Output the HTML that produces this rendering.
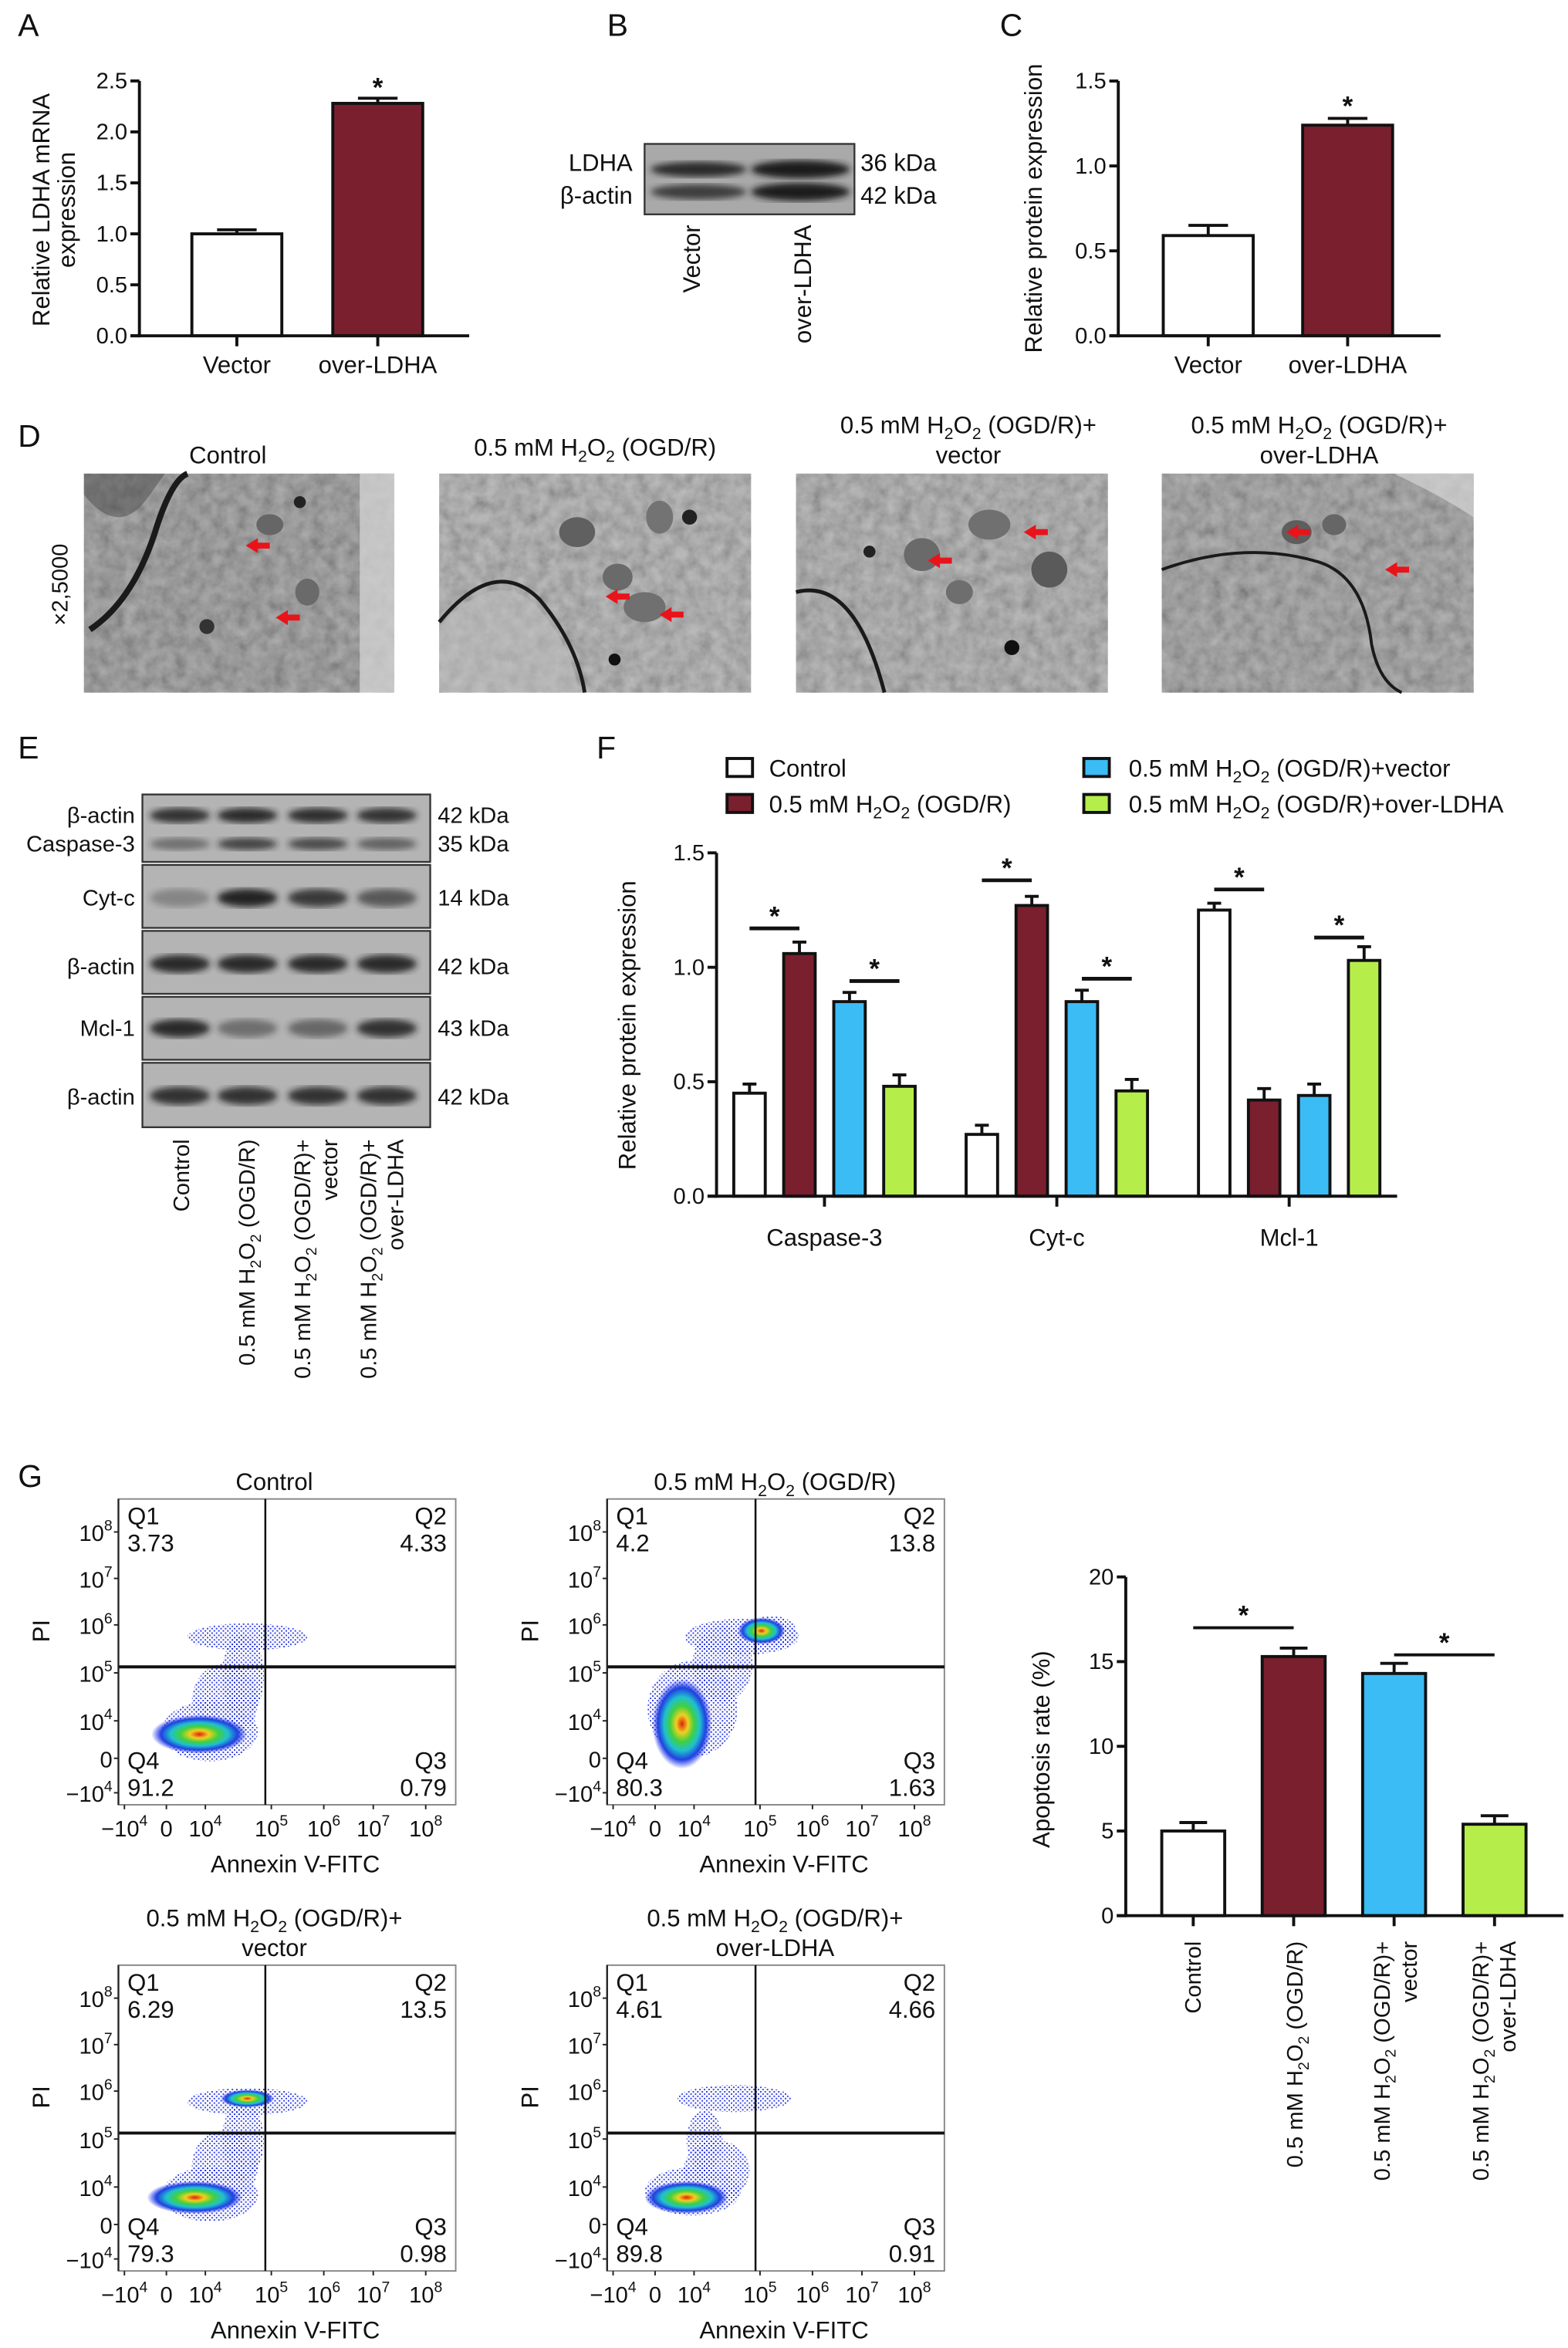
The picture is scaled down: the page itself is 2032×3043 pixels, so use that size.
<!DOCTYPE html>
<html><head><meta charset="utf-8">
<style>
html,body{margin:0;padding:0;background:#fff;}
body{width:2032px;height:3043px;overflow:hidden;}
svg{display:block;font-family:"Liberation Sans",Arial,sans-serif;}
text{fill:#111;}
</style></head>
<body>
<svg id="root" xmlns="http://www.w3.org/2000/svg" width="2032" height="3043" viewBox="0 0 1046 1566.4" preserveAspectRatio="none">
<defs>
  <filter id="noise" x="0" y="0" width="1" height="1">
    <feTurbulence type="fractalNoise" baseFrequency="0.12" numOctaves="3" seed="7"/>
    <feColorMatrix type="saturate" values="0"/>
    <feComponentTransfer><feFuncA type="linear" slope="0" intercept="1"/></feComponentTransfer>
  </filter>
  <filter id="blur2"><feGaussianBlur stdDeviation="2.2"/></filter>
  <filter id="blur1"><feGaussianBlur stdDeviation="1.2"/></filter>
  <radialGradient id="dens">
    <stop offset="0" stop-color="#e02010"/>
    <stop offset="0.2" stop-color="#f0d020"/>
    <stop offset="0.4" stop-color="#40d040"/>
    <stop offset="0.6" stop-color="#20c0d0"/>
    <stop offset="0.8" stop-color="#2040e0"/>
    <stop offset="1" stop-color="#2030f0" stop-opacity="0"/>
  </radialGradient>
  <pattern id="dots" width="3" height="3" patternUnits="userSpaceOnUse">
    <rect x="0" y="0" width="1" height="1" fill="#1a2ae0"/>
    <rect x="1.5" y="1.5" width="1" height="1" fill="#1a2ae0"/>
  </pattern>
</defs>

<g font-size="21">
  <text x="12" y="24">A</text><text x="405" y="24">B</text><text x="667" y="24">C</text>
  <text x="12" y="298">D</text><text x="12" y="506">E</text><text x="398" y="506">F</text>
  <text x="12" y="992">G</text>
</g>

<g font-size="16">
  <text transform="translate(33,140) rotate(-90)" text-anchor="middle">Relative LDHA mRNA</text>
  <text transform="translate(50,140) rotate(-90)" text-anchor="middle">expression</text>
</g>
<text font-size="16" transform="translate(695,139) rotate(-90)" text-anchor="middle">Relative protein expression</text>
<text font-size="16" transform="translate(424,684) rotate(-90)" text-anchor="middle">Relative protein expression</text>
<text font-size="16" transform="translate(700,1167) rotate(-90)" text-anchor="middle">Apoptosis rate (%)</text>

<g>
  <rect x="430" y="96" width="140" height="47" fill="#a9a9a9" stroke="#333" stroke-width="1.2"/>
  <ellipse cx="466" cy="113" rx="32" ry="5" fill="#2a2a2a" filter="url(#blur2)"/>
  <ellipse cx="534" cy="113" rx="33" ry="6" fill="#1e1e1e" filter="url(#blur2)"/>
  <ellipse cx="466" cy="128" rx="32" ry="5" fill="#3c3c3c" filter="url(#blur2)"/>
  <ellipse cx="534" cy="128" rx="33" ry="6" fill="#1e1e1e" filter="url(#blur2)"/>
  <text x="422" y="114" font-size="16" text-anchor="end">LDHA</text>
  <text x="422" y="136" font-size="16" text-anchor="end">β-actin</text>
  <text x="574" y="114" font-size="16">36 kDa</text>
  <text x="574" y="136" font-size="16">42 kDa</text>
  <text transform="translate(467,150) rotate(-90)" font-size="16" text-anchor="end">Vector</text>
  <text transform="translate(541,150) rotate(-90)" font-size="16" text-anchor="end">over-LDHA</text>
</g>

<g>
  <text transform="translate(45,390) rotate(-90)" font-size="15" text-anchor="middle">×2,5000</text>
  <text x="152" y="309" font-size="16" text-anchor="middle">Control</text>
  <text x="397" y="304" font-size="16" text-anchor="middle">0.5 mM H<tspan font-size="11" dy="4">2</tspan><tspan dy="-4">O</tspan><tspan font-size="11" dy="4">2</tspan><tspan dy="-4"> (OGD/R)</tspan></text>
  <text x="646" y="289" font-size="16" text-anchor="middle">0.5 mM H<tspan font-size="11" dy="4">2</tspan><tspan dy="-4">O</tspan><tspan font-size="11" dy="4">2</tspan><tspan dy="-4"> (OGD/R)+</tspan></text>
  <text x="646" y="309" font-size="16" text-anchor="middle">vector</text>
  <text x="880" y="289" font-size="16" text-anchor="middle">0.5 mM H<tspan font-size="11" dy="4">2</tspan><tspan dy="-4">O</tspan><tspan font-size="11" dy="4">2</tspan><tspan dy="-4"> (OGD/R)+</tspan></text>
  <text x="880" y="309" font-size="16" text-anchor="middle">over-LDHA</text>

  <g>
    <rect x="56" y="316" width="207" height="146" fill="#7c7c7c"/>
    <rect x="56" y="316" width="207" height="146" filter="url(#noise)" opacity="0.45"/>
    <path d="M56,330 Q80,360 100,330 L110,316 L56,316 Z" fill="#4a4a4a" opacity="0.5"/>
    <path d="M60,420 Q90,400 105,350 Q115,320 125,316" stroke="#1a1a1a" stroke-width="4" fill="none"/>
    <rect x="240" y="316" width="23" height="146" fill="#d4d4d4" opacity="0.75"/>
    <circle cx="200" cy="335" r="4" fill="#222"/><circle cx="138" cy="418" r="5" fill="#333"/>
    <ellipse cx="180" cy="350" rx="9" ry="7" fill="#666"/><ellipse cx="205" cy="395" rx="8" ry="9" fill="#6a6a6a"/>
  </g>
  <g>
    <rect x="293" y="316" width="208" height="146" fill="#9a9a9a"/>
    <rect x="293" y="316" width="208" height="146" filter="url(#noise)" opacity="0.45"/>
    <path d="M293,418 Q330,378 358,404 Q382,432 386,462 L293,462 Z" fill="#c0c0c0" opacity="0.5"/>
    <path d="M293,415 Q330,370 360,400 Q385,430 390,462" stroke="#1a1a1a" stroke-width="2.5" fill="none"/>
    <ellipse cx="385" cy="355" rx="12" ry="10" fill="#606060"/><ellipse cx="430" cy="405" rx="14" ry="10" fill="#707070"/>
    <ellipse cx="412" cy="385" rx="10" ry="9" fill="#6a6a6a"/><ellipse cx="440" cy="345" rx="9" ry="11" fill="#737373"/>
    <circle cx="410" cy="440" r="4" fill="#111"/><circle cx="460" cy="345" r="5" fill="#222"/>
  </g>
  <g>
    <rect x="531" y="316" width="208" height="146" fill="#969696"/>
    <rect x="531" y="316" width="208" height="146" filter="url(#noise)" opacity="0.45"/>
    <path d="M531,395 Q570,385 590,462" stroke="#1a1a1a" stroke-width="2.5" fill="none"/>
    <ellipse cx="615" cy="370" rx="12" ry="11" fill="#6a6a6a"/><ellipse cx="660" cy="350" rx="14" ry="10" fill="#707070"/>
    <ellipse cx="700" cy="380" rx="12" ry="12" fill="#5a5a5a"/><ellipse cx="640" cy="395" rx="9" ry="8" fill="#6e6e6e"/>
    <circle cx="580" cy="368" r="4" fill="#222"/><circle cx="675" cy="432" r="5" fill="#111"/>
  </g>
  <g>
    <rect x="775" y="316" width="208" height="146" fill="#858585"/>
    <rect x="775" y="316" width="208" height="146" filter="url(#noise)" opacity="0.45"/>
    <path d="M775,380 Q830,360 880,375 Q910,385 915,430 Q920,455 935,462" stroke="#1a1a1a" stroke-width="2" fill="none"/>
    <path d="M930,316 Q960,330 983,345 L983,316 Z" fill="#d5d5d5" opacity="0.7"/>
    <ellipse cx="865" cy="355" rx="10" ry="8" fill="#5e5e5e"/><ellipse cx="890" cy="350" rx="8" ry="7" fill="#666"/>
  </g>
  <g fill="#e8141a">
    <path d="M164,364 l8,-5 v3 h8 v4 h-8 v3 z"/>
    <path d="M184,412 l8,-5 v3 h8 v4 h-8 v3 z"/>
    <path d="M404,398 l8,-5 v3 h8 v4 h-8 v3 z"/>
    <path d="M440,410 l8,-5 v3 h8 v4 h-8 v3 z"/>
    <path d="M619,374 l8,-5 v3 h8 v4 h-8 v3 z"/>
    <path d="M683,355 l8,-5 v3 h8 v4 h-8 v3 z"/>
    <path d="M858,355 l8,-5 v3 h8 v4 h-8 v3 z"/>
    <path d="M924,380 l8,-5 v3 h8 v4 h-8 v3 z"/>
  </g>
</g>

<g id="blotE">
  <text x="90" y="549" font-size="15" text-anchor="end">β-actin</text>
  <text x="90" y="568" font-size="15" text-anchor="end">Caspase-3</text>
  <text x="90" y="604" font-size="15" text-anchor="end">Cyt-c</text>
  <text x="90" y="650" font-size="15" text-anchor="end">β-actin</text>
  <text x="90" y="691" font-size="15" text-anchor="end">Mcl-1</text>
  <text x="90" y="737" font-size="15" text-anchor="end">β-actin</text>
  <text x="292" y="549" font-size="15">42 kDa</text>
  <text x="292" y="568" font-size="15">35 kDa</text>
  <text x="292" y="604" font-size="15">14 kDa</text>
  <text x="292" y="650" font-size="15">42 kDa</text>
  <text x="292" y="691" font-size="15">43 kDa</text>
  <text x="292" y="737" font-size="15">42 kDa</text>
  <text transform="translate(126,760) rotate(-90)" font-size="15" text-anchor="end">Control</text>
  <text transform="translate(170,760) rotate(-90)" font-size="15" text-anchor="end">0.5 mM H<tspan font-size="10" dy="4">2</tspan><tspan dy="-4">O</tspan><tspan font-size="10" dy="4">2</tspan><tspan dy="-4"> (OGD/R)</tspan></text>
  <text transform="translate(207,760) rotate(-90)" font-size="15" text-anchor="end">0.5 mM H<tspan font-size="10" dy="4">2</tspan><tspan dy="-4">O</tspan><tspan font-size="10" dy="4">2</tspan><tspan dy="-4"> (OGD/R)+</tspan></text>
  <text transform="translate(225,760) rotate(-90)" font-size="15" text-anchor="end">vector</text>
  <text transform="translate(251,760) rotate(-90)" font-size="15" text-anchor="end">0.5 mM H<tspan font-size="10" dy="4">2</tspan><tspan dy="-4">O</tspan><tspan font-size="10" dy="4">2</tspan><tspan dy="-4"> (OGD/R)+</tspan></text>
  <text transform="translate(269,760) rotate(-90)" font-size="15" text-anchor="end">over-LDHA</text>
</g>

<g font-size="16">
  <g><rect x="485" y="506" width="17" height="12" fill="#fff" stroke="#111" stroke-width="2"/><text x="513" y="518">Control</text></g>
  <g><rect x="485" y="530" width="17" height="12" fill="#7a1f2e" stroke="#111" stroke-width="2"/><text x="513" y="542">0.5 mM H<tspan font-size="11" dy="4">2</tspan><tspan dy="-4">O</tspan><tspan font-size="11" dy="4">2</tspan><tspan dy="-4"> (OGD/R)</tspan></text></g>
  <g><rect x="723" y="506" width="17" height="12" fill="#3bbcf5" stroke="#111" stroke-width="2"/><text x="753" y="518">0.5 mM H<tspan font-size="11" dy="4">2</tspan><tspan dy="-4">O</tspan><tspan font-size="11" dy="4">2</tspan><tspan dy="-4"> (OGD/R)+vector</tspan></text></g>
  <g><rect x="723" y="530" width="17" height="12" fill="#b5ee4a" stroke="#111" stroke-width="2"/><text x="753" y="542">0.5 mM H<tspan font-size="11" dy="4">2</tspan><tspan dy="-4">O</tspan><tspan font-size="11" dy="4">2</tspan><tspan dy="-4"> (OGD/R)+over-LDHA</tspan></text></g>
</g>

<g font-size="15">
  <text transform="translate(801,1295) rotate(-90)" text-anchor="end">Control</text>
  <text transform="translate(869,1295) rotate(-90)" text-anchor="end">0.5 mM H<tspan font-size="10" dy="4">2</tspan><tspan dy="-4">O</tspan><tspan font-size="10" dy="4">2</tspan><tspan dy="-4"> (OGD/R)</tspan></text>
  <text transform="translate(927,1295) rotate(-90)" text-anchor="end">0.5 mM H<tspan font-size="10" dy="4">2</tspan><tspan dy="-4">O</tspan><tspan font-size="10" dy="4">2</tspan><tspan dy="-4"> (OGD/R)+</tspan></text>
  <text transform="translate(945,1295) rotate(-90)" text-anchor="end">vector</text>
  <text transform="translate(993,1295) rotate(-90)" text-anchor="end">0.5 mM H<tspan font-size="10" dy="4">2</tspan><tspan dy="-4">O</tspan><tspan font-size="10" dy="4">2</tspan><tspan dy="-4"> (OGD/R)+</tspan></text>
  <text transform="translate(1011,1295) rotate(-90)" text-anchor="end">over-LDHA</text>
</g>

<g font-size="16" text-anchor="middle">
  <text x="183" y="994">Control</text>
  <text x="517" y="994">0.5 mM H<tspan font-size="11" dy="4">2</tspan><tspan dy="-4">O</tspan><tspan font-size="11" dy="4">2</tspan><tspan dy="-4"> (OGD/R)</tspan></text>
  <text x="183" y="1285">0.5 mM H<tspan font-size="11" dy="4">2</tspan><tspan dy="-4">O</tspan><tspan font-size="11" dy="4">2</tspan><tspan dy="-4"> (OGD/R)+</tspan></text>
  <text x="183" y="1305">vector</text>
  <text x="517" y="1285">0.5 mM H<tspan font-size="11" dy="4">2</tspan><tspan dy="-4">O</tspan><tspan font-size="11" dy="4">2</tspan><tspan dy="-4"> (OGD/R)+</tspan></text>
  <text x="517" y="1305">over-LDHA</text>
</g>
</svg>

<script>
const catsA = ['Vector', 'over-LDHA'];
const valsA = [1.0, 2.28];
const errA = [0.04, 0.05];
const ticksA = [0, 0.5, 1.0, 1.5, 2.0, 2.5];

const catsC = ['Vector', 'over-LDHA'];
const valsC = [0.59, 1.24];
const errC = [0.06, 0.04];
const ticksC = [0, 0.5, 1.0, 1.5];

const catsF = ['Caspase-3', 'Cyt-c', 'Mcl-1'];
const seriesF = ['Control', 'OGD/R', 'OGD/R+vector', 'OGD/R+over-LDHA'];
const valsFControl = [0.45, 0.27, 1.25];
const valsFOgd = [1.06, 1.27, 0.42];
const valsFVector = [0.85, 0.85, 0.44];
const valsFLdha = [0.48, 0.46, 1.03];
const errFControl = [0.04, 0.04, 0.03];
const errFOgd = [0.05, 0.04, 0.05];
const errFVector = [0.04, 0.05, 0.05];
const errFLdha = [0.05, 0.05, 0.06];
const sigF = [[0,0,1,1.17],[0,2,3,0.94],[1,0,1,1.38],[1,2,3,0.95],[2,0,1,1.34],[2,2,3,1.13]];
const ticksF = [0, 0.5, 1.0, 1.5];

const catsG = ['Control', 'OGD/R', 'OGD/R+vector', 'OGD/R+over-LDHA'];
const valsG = [5.0, 15.3, 14.3, 5.4];
const errG = [0.5, 0.5, 0.6, 0.5];
const sigG = [[0,1,17.0],[2,3,15.4]];
const ticksG = [0, 5, 10, 15, 20];

const flowNames = ['Control', 'OGD/R', 'OGD/R+vector', 'OGD/R+over-LDHA'];
const flowQ1 = ['3.73', '4.2', '6.29', '4.61'];
const flowQ2 = ['4.33', '13.8', '13.5', '4.66'];
const flowQ3 = ['0.79', '1.63', '0.98', '0.91'];
const flowQ4 = ['91.2', '80.3', '79.3', '89.8'];

const COLORS = ['#ffffff', '#7a1f2e', '#3bbcf5', '#b5ee4a'];
const NS = 'http://www.w3.org/2000/svg';
const root = document.getElementById('root');

function mk(tag, attrs, parent) {
  const el = document.createElementNS(NS, tag);
  for (const k in attrs) el.setAttribute(k, attrs[k]);
  (parent || root).appendChild(el);
  return el;
}
function grp(name) {
  const g = mk('g', {});
  
  
  return g;
}
function yAxis(g, x, y0, y1, ticks, yf, fmt) {
  const ax = mk('line', {x1:x, y1:y0+1, x2:x, y2:y1, stroke:'#111', 'stroke-width':2}, g);
  
  
  ticks.forEach(t => {
    const tk = mk('line', {x1:x-6, y1:yf(t), x2:x, y2:yf(t), stroke:'#111', 'stroke-width':2}, g);
    
    
    const lb = mk('text', {x:x-8, y:yf(t)+5, 'font-size':15, 'text-anchor':'end'}, g);
    
    
    lb.textContent = fmt(t);
  });
}
function bar(g, cx, w, v, e, yf, color, name) {
  const top = yf(v), base = yf(0);
  const el = mk('line', {x1:cx, y1:top, x2:cx, y2:yf(v+e), stroke:'#111', 'stroke-width':2}, g);
  
  
  const cap = mk('line', {x1:cx-w*0.22, y1:yf(v+e), x2:cx+w*0.22, y2:yf(v+e), stroke:'#111', 'stroke-width':2}, g);
  
  
  const r = mk('rect', {x:cx-w/2, y:top, width:w, height:base-top, fill:color, stroke:'#111', 'stroke-width':2}, g);
  
  
}
function star(g, x, y) {
  const s = mk('text', {x:x, y:y, 'font-size':18, 'font-weight':'bold', 'text-anchor':'middle'}, g);
  
  
  s.textContent = '*';
}
function xCatLabel(g, x, y, txt) {
  const t = mk('text', {x:x, y:y, 'font-size':16, 'text-anchor':'middle'}, g);
  
  
  t.textContent = txt;
}
function xAxis(g, x0, x1, y) {
  const l = mk('line', {x1:x0-6, y1:y, x2:x1, y2:y, stroke:'#111', 'stroke-width':2}, g);
  
  
}
function xTick(g, x, y) {
  const l = mk('line', {x1:x, y1:y, x2:x, y2:y+7, stroke:'#111', 'stroke-width':2}, g);
  
  
}

(function(){
  const g = grp('chart-a');
  const yA = v => 224 - v * 68;
  const xA = i => 158 + i * 94;
  catsA.forEach((c,i) => {
    bar(g, xA(i), 60, valsA[i], errA[i], yA, COLORS[i], 'bar-a-' + i);
    xTick(g, xA(i), 224);
    xCatLabel(g, xA(i), 249, c);
  });
  star(g, xA(1), yA(valsA[1]+errA[1]) - 1);
  xAxis(g, 93, 313, 224);
  yAxis(g, 93, 224, 54, ticksA, yA, t => t.toFixed(1));
})();

(function(){
  const g = grp('chart-c');
  const yC = v => 224 - v * 113.3;
  const xC = i => 806 + i * 93;
  catsC.forEach((c,i) => {
    bar(g, xC(i), 60, valsC[i], errC[i], yC, COLORS[i], 'bar-c-' + i);
    xTick(g, xC(i), 224);
    xCatLabel(g, xC(i), 249, c);
  });
  star(g, xC(1), yC(valsC[1]+errC[1]) - 2);
  xAxis(g, 746, 961, 224);
  yAxis(g, 746, 224, 54, ticksC, yC, t => t.toFixed(1));
})();

(function(){
  const g = document.getElementById('blotE');
  const lanes = [120, 165, 212, 258];
  const boxes = [[530,575],[577,619],[621,663],[665,707],[709,752]];
  boxes.forEach(b => {
    const r = mk('rect', {x:95, y:b[0], width:192, height:b[1]-b[0], fill:'#b4b4b4', stroke:'#333', 'stroke-width':1.2}, g);
    
    
  });
  const bands = [
    [544, [0.85,0.9,0.88,0.85], 5],
    [563, [0.45,0.75,0.7,0.55], 4],
    [599, [0.3,0.95,0.8,0.6], 6],
    [643, [0.9,0.9,0.9,0.9], 6],
    [686, [0.9,0.45,0.5,0.85], 6],
    [731, [0.85,0.85,0.85,0.85], 6]
  ];
  bands.forEach(b => {
    b[1].forEach((a,i) => {
      const e = mk('ellipse', {cx:lanes[i], cy:b[0], rx:20, ry:b[2], fill:'#1a1a1a', opacity:a, filter:'url(#blur2)'}, g);
      
      
    });
  });
})();

(function(){
  const g = grp('chart-f');
  const yF = v => 798 - v * 152.7;
  const xG = i => 550 + i * 155;
  const offs = [-50, -16.7, 16.7, 50];
  const vals = [valsFControl, valsFOgd, valsFVector, valsFLdha];
  const errs = [errFControl, errFOgd, errFVector, errFLdha];
  catsF.forEach((c,i) => {
    seriesF.forEach((s,j) => {
      bar(g, xG(i)+offs[j], 21, vals[j][i], errs[j][i], yF, COLORS[j], 'bar-f-' + i + '-' + j);
    });
    xTick(g, xG(i), 798);
    xCatLabel(g, xG(i), 831, c);
  });
  sigF.forEach(s => {
    const xa = xG(s[0])+offs[s[1]], xb = xG(s[0])+offs[s[2]];
    const l = mk('line', {x1:xa, y1:yF(s[3]), x2:xb, y2:yF(s[3]), stroke:'#111', 'stroke-width':2.5}, g);
    
    
    star(g, (xa+xb)/2, yF(s[3]) - 2);
  });
  xAxis(g, 478, 932, 798);
  yAxis(g, 478, 798, 569, ticksF, yF, t => t.toFixed(1));
})();

(function(){
  const g = grp('chart-g');
  const yG = v => 1278 - v * 11.3;
  const xB = i => 796 + i * 67;
  catsG.forEach((c,i) => {
    bar(g, xB(i), 42, valsG[i], errG[i], yG, COLORS[i], 'bar-g-' + i);
    xTick(g, xB(i), 1278);
  });
  sigG.forEach(s => {
    const l = mk('line', {x1:xB(s[0]), y1:yG(s[2]), x2:xB(s[1]), y2:yG(s[2]), stroke:'#111', 'stroke-width':2}, g);
    
    
    star(g, (xB(s[0])+xB(s[1]))/2, yG(s[2]) - 2);
  });
  xAxis(g, 751, 1043, 1278);
  yAxis(g, 751, 1278, 1052, ticksG, yG, t => String(t));
})();

const flowBoxes = [[79,1000,177],[405,1000,504],[79,1311,177],[405,1311,504]];
const flowBlobs = [
  [[140,1155,32,20],[150,1135,22,25],[165,1092,40,9],[162,1118,14,28]],
  [[462,1140,30,32],[482,1110,20,25],[495,1092,38,12],[515,1088,16,10]],
  [[140,1464,32,18],[150,1445,22,24],[165,1402,40,9],[162,1428,14,26]],
  [[462,1462,32,16],[478,1448,22,20],[490,1400,38,9],[470,1428,12,20]]
];
const flowCores = [
  [[133,1157,32,13]],
  [[455,1150,20,30],[508,1088,16,9]],
  [[130,1466,32,11],[165,1400,18,6]],
  [[458,1466,28,11]]
];
function sup(parent, base, exp) {
  parent.textContent = '';
  const a = document.createElementNS(NS,'tspan'); a.textContent = base; parent.appendChild(a);
  const b = document.createElementNS(NS,'tspan'); b.textContent = exp; b.setAttribute('font-size','10'); b.setAttribute('dy','-7'); parent.appendChild(b);
}
flowNames.forEach((nm, k) => {
  const [bx, by, vx] = flowBoxes[k];
  const bw = 225, bh = 204, hy = by + 112;
  const g = grp('flow-plot-' + k);
  const box = mk('rect', {x:bx, y:by, width:bw, height:bh, fill:'#fff', stroke:'#888', 'stroke-width':1}, g);
  
  
  flowBlobs[k].forEach(b => {
    const e = mk('ellipse', {cx:b[0], cy:b[1], rx:b[2], ry:b[3], fill:'url(#dots)', opacity:0.9}, g);
    
    
  });
  flowCores[k].forEach(b => {
    const e = mk('ellipse', {cx:b[0], cy:b[1], rx:b[2], ry:b[3], fill:'url(#dens)'}, g);
    
    
  });
  const v = mk('line', {x1:vx, y1:by, x2:vx, y2:by+bh, stroke:'#111', 'stroke-width':1.3}, g);
  
  
  const h = mk('line', {x1:bx, y1:hy, x2:bx+bw, y2:hy, stroke:'#111', 'stroke-width':2}, g);
  
  
  const ax = mk('line', {x1:bx, y1:by, x2:bx, y2:by+bh, stroke:'#222', 'stroke-width':1.2}, g);
  
  
  const yt = [['10','8',22],['10','7',53],['10','6',84],['10','5',116],['10','4',148],['0','',173],['\u221210','4',196]];
  yt.forEach(t => {
    const tx = mk('text', {x:bx-4, y:by+t[2]+6, 'font-size':15, 'text-anchor':'end'}, g);
    
    
    if (t[1]) sup(tx, t[0], t[1]); else tx.textContent = t[0];
    const tk = mk('line', {x1:bx-3, y1:by+t[2], x2:bx, y2:by+t[2], stroke:'#222', 'stroke-width':1}, g);
    
    
  });
  const xt = [['\u221210','4',4],['0','',32],['10','4',58],['10','5',102],['10','6',137],['10','7',170],['10','8',205]];
  xt.forEach(t => {
    const tx = mk('text', {x:bx+t[2], y:by+225, 'font-size':15, 'text-anchor':'middle'}, g);
    
    
    if (t[1]) sup(tx, t[0], t[1]); else tx.textContent = t[0];
    const tk = mk('line', {x1:bx+t[2], y1:by+bh, x2:bx+t[2], y2:by+bh+3, stroke:'#222', 'stroke-width':1}, g);
    
    
  });
  const xl = mk('text', {x:bx+118, y:by+249, 'font-size':16, 'text-anchor':'middle'}, g);
  
  
  xl.textContent = 'Annexin V-FITC';
  const yl = mk('text', {transform:'translate(' + (bx-46) + ',' + (by+88) + ') rotate(-90)', 'font-size':16, 'text-anchor':'middle'}, g);
  
  
  yl.textContent = 'PI';
  const q = [['Q1', flowQ1[k], bx+6, by+17, 'start'], ['Q2', flowQ2[k], bx+bw-6, by+17, 'end'],
             ['Q4', flowQ4[k], bx+6, by+180, 'start'], ['Q3', flowQ3[k], bx+bw-6, by+180, 'end']];
  q.forEach(qq => {
    const a = mk('text', {x:qq[2], y:qq[3], 'font-size':16, 'text-anchor':qq[4]}, g);
    
    
    a.textContent = qq[0];
    const b = mk('text', {x:qq[2], y:qq[3]+18, 'font-size':16, 'text-anchor':qq[4]}, g);
    
    
    b.textContent = qq[1];
  });
});
</script>
</body></html>
